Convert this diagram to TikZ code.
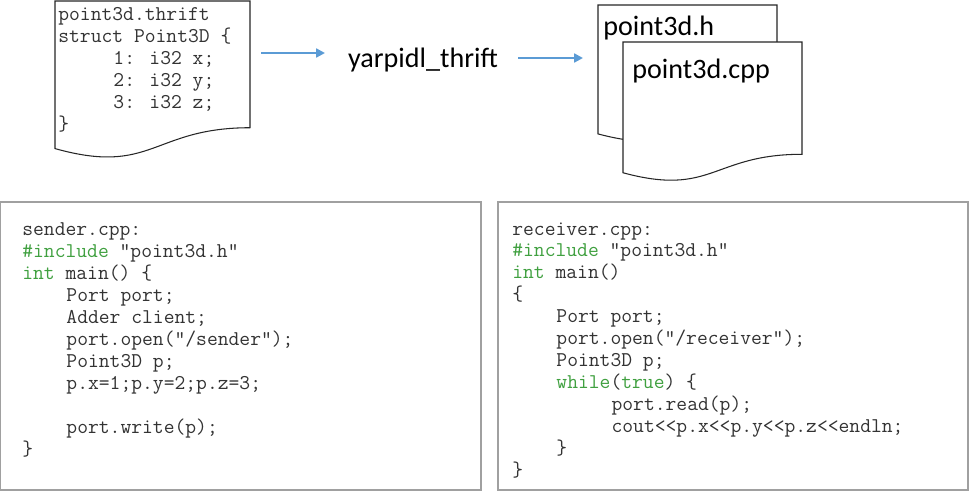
\documentclass[tikz,border=0pt]{standalone}
\usepackage{fontspec}
\setsansfont{Carlito}
\usetikzlibrary{positioning,arrows.meta}
\definecolor{kwgreen}{RGB}{64,160,64}
\definecolor{flowblue}{RGB}{91,155,213}
\definecolor{panelgray}{RGB}{160,160,160}
\newcommand{\kw}[1]{\textcolor{kwgreen}{#1}}
\newcommand{\ind}[1]{\hspace*{#1em}}
% document outline: left, top, width, height (px)
\newcommand{\docpath}[4]{%
  \draw[docline] (#1,#2) -- ({#1+#3},#2) -- ({#1+#3},{#2+0.802*#4})
    .. controls ({#1+0.5*#3},{#2+0.802*#4}) and ({#1+0.5*#3},{#2+1.107*#4}) ..
    (#1,{#2+0.934*#4}) -- cycle;}
\begin{document}
\begin{tikzpicture}[
  x=0.02cm, y=-0.02cm,
  docline/.style={draw=black!85,fill=white,line width=0.6pt},
  code/.style={anchor=base west,inner sep=0pt,align=left,
    font=\fontsize{11.95pt}{12.47pt}\selectfont\ttfamily,text=black!80},
  label/.style={anchor=base west,inner sep=0pt,font=\fontsize{16pt}{19pt}\selectfont\sffamily},
  panel/.style={draw=panelgray,line width=1.2pt},
  flow/.style={-{Triangle[length=5pt,width=5pt]},draw=flowblue,line width=1.3pt}
]
\useasboundingbox (0,0) rectangle (969,491);

% thrift source (anchored at the baseline of its last line)
\docpath{55}{1}{195}{158}
\node[code] (thriftsrc) at (58,130) {point3d.thrift\\
  struct Point3D \{\\
  \ind{2.625}1: i32 x;\\
  \ind{2.625}2: i32 y;\\
  \ind{2.625}3: i32 z;\\
  \}};

% generated files
\docpath{598}{5}{179}{138}
\node[label] (hfile) at (603,35) {point3d.h};
\docpath{623}{42}{179}{140}
\node[label] (cppfile) at (632,78) {point3d.cpp};

% generator
\node[label,anchor=base] (tool) at (423,67) {yarpidl\_thrift};
\coordinate (in1) at (261,53);
\coordinate (in2) at (325,53);
\coordinate (out1) at (518,58);
\coordinate (out2) at (583,58);
\draw[flow] (in1) -- (in2);
\draw[flow] (out1) -- (out2);

% sender / receiver panels
\draw[panel] (0,202) rectangle (481,490);
\draw[panel] (498,202) rectangle (968,490);

\node[code] (sender) at (22,455) {sender.cpp:\\
  \kw{\#include} "point3d.h"\\
  \kw{int} main() \{\\
  \ind{2.1}Port port;\\
  \ind{2.1}Adder client;\\
  \ind{2.1}port.open("/sender");\\
  \ind{2.1}Point3D p;\\
  \ind{2.1}p.x=1;p.y=2;p.z=3;\\
  \mbox{}\\
  \ind{2.1}port.write(p);\\
  \}};

\node[code] (receiver) at (512,476) {receiver.cpp:\\
  \kw{\#include} "point3d.h"\\
  \kw{int} main()\\
  \{\\
  \ind{2.1}Port port;\\
  \ind{2.1}port.open("/receiver");\\
  \ind{2.1}Point3D p;\\
  \ind{2.1}\kw{while}(\kw{true}) \{\\
  \ind{4.725}port.read(p);\\
  \ind{4.725}cout<<p.x<<p.y<<p.z<<endln;\\
  \ind{2.1}\}\\
  \}};
\end{tikzpicture}
\end{document}
